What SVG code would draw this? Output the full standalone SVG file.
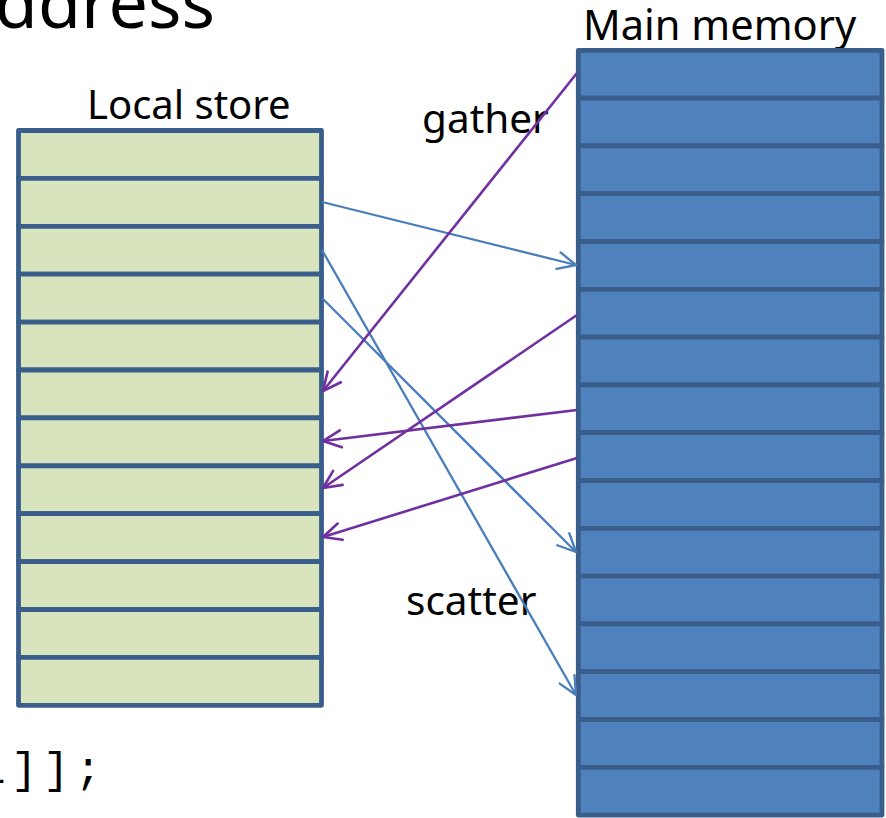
<svg xmlns="http://www.w3.org/2000/svg" width="886" height="818" viewBox="0 0 886 818">
<style>
.t{font-family:"Noto Sans","Open Sans","DejaVu Sans",sans-serif;fill:#000}
.ls rect{fill:#D7E4BD;stroke:#3A5E8C;stroke-width:4.8;stroke-linejoin:round}
.mm rect{fill:#4F81BD;stroke:#3A5E8C;stroke-width:4.8;stroke-linejoin:round}
.sc{stroke:#4A7EBB;stroke-width:2.3;fill:none;marker-end:url(#ab)}
.ga{stroke:#7030A0;stroke-width:2.6;fill:none;marker-end:url(#ap)}
</style>
<defs>
<marker id="ab" markerUnits="userSpaceOnUse" orient="auto" markerWidth="30" markerHeight="30" viewBox="-25 -15 30 30" refX="0" refY="0" overflow="visible">
<path d="M-18,-8.5 L0,0 L-18,8.5" fill="none" stroke="#4A7EBB" stroke-width="2.3" stroke-linecap="round" stroke-linejoin="round"/>
</marker>
<marker id="ap" markerUnits="userSpaceOnUse" orient="auto" markerWidth="30" markerHeight="30" viewBox="-25 -15 30 30" refX="0" refY="0" overflow="visible">
<path d="M-18,-8.5 L0,0 L-18,8.5" fill="none" stroke="#7030A0" stroke-width="2.6" stroke-linecap="round" stroke-linejoin="round"/>
</marker>
</defs>
<rect width="886" height="818" fill="#fff"/>
<g id="title"><text class="t" x="215" y="28" font-size="70" text-anchor="end">ddress</text></g>
<g id="code"><text x="-21" y="783" font-family="'Liberation Mono','DejaVu Sans Mono',monospace" font-size="44" letter-spacing="5.6">1]];</text></g>
<g id="local-store">
<text class="t" x="87" y="119" font-size="40">Local store</text>
<g class="ls">
<rect x="18.5" y="130.5" width="303" height="47.9"/>
<rect x="18.5" y="178.4" width="303" height="47.9"/>
<rect x="18.5" y="226.3" width="303" height="47.9"/>
<rect x="18.5" y="274.2" width="303" height="47.9"/>
<rect x="18.5" y="322.1" width="303" height="47.9"/>
<rect x="18.5" y="370" width="303" height="47.9"/>
<rect x="18.5" y="417.9" width="303" height="47.9"/>
<rect x="18.5" y="465.8" width="303" height="47.9"/>
<rect x="18.5" y="513.7" width="303" height="47.9"/>
<rect x="18.5" y="561.6" width="303" height="47.9"/>
<rect x="18.5" y="609.5" width="303" height="47.9"/>
<rect x="18.5" y="657.4" width="303" height="47.9"/>
</g>
</g>
<g id="main-memory">
<text class="t" x="583" y="40" font-size="41.6">Main memory</text>
<g class="mm">
<rect x="578.3" y="50.3" width="303.7" height="47.8"/>
<rect x="578.3" y="98.1" width="303.7" height="47.8"/>
<rect x="578.3" y="145.9" width="303.7" height="47.8"/>
<rect x="578.3" y="193.7" width="303.7" height="47.8"/>
<rect x="578.3" y="241.5" width="303.7" height="47.8"/>
<rect x="578.3" y="289.3" width="303.7" height="47.8"/>
<rect x="578.3" y="337.1" width="303.7" height="47.8"/>
<rect x="578.3" y="384.9" width="303.7" height="47.8"/>
<rect x="578.3" y="432.7" width="303.7" height="47.8"/>
<rect x="578.3" y="480.5" width="303.7" height="47.8"/>
<rect x="578.3" y="528.3" width="303.7" height="47.8"/>
<rect x="578.3" y="576.1" width="303.7" height="47.8"/>
<rect x="578.3" y="623.9" width="303.7" height="47.8"/>
<rect x="578.3" y="671.7" width="303.7" height="47.8"/>
<rect x="578.3" y="719.5" width="303.7" height="47.8"/>
<rect x="578.3" y="767.3" width="303.7" height="47.8"/>
</g>
</g>
<g id="labels">
<text class="t" x="422" y="133" font-size="40.5">gather</text>
<text class="t" x="406" y="615" font-size="40.5">scatter</text>
</g>
<g id="connectors">
<line class="sc" x1="322" y1="202" x2="576" y2="265"/>
<line class="sc" x1="322" y1="250" x2="576" y2="695"/>
<line class="sc" x1="322" y1="298" x2="576" y2="552"/>
<line class="ga" x1="577" y1="73" x2="323" y2="391"/>
<line class="ga" x1="577" y1="315" x2="323" y2="488"/>
<line class="ga" x1="577" y1="410" x2="323" y2="441"/>
<line class="ga" x1="577" y1="458" x2="323" y2="537"/>
</g>
</svg>
